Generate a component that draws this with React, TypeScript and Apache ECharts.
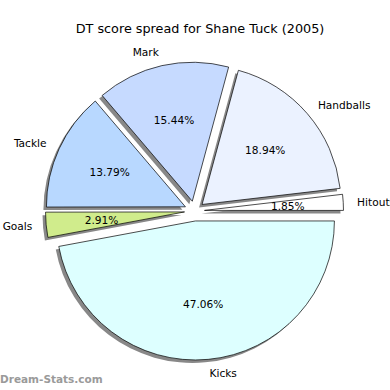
import React, { useEffect, useRef } from "react";
import * as echarts from "echarts";

const TITLE = "DT score spread for Shane Tuck (2005)";
const CATEGORIES = ["Kicks", "Goals", "Tackle", "Mark", "Handballs", "Hitouts"];
const PERCENTS = [47.06, 2.91, 13.79, 15.44, 18.94, 1.85];
const COLORS = ["#DDFFFF", "#D0EC8C", "#B8D8FF", "#C6DAFF", "#EBF2FF", "#FFFFFF"];
const WATERMARK = "Dream-Stats.com";

const CX = 194.5;
const CY = 211;
const R = 139;
const OFFSET = 10;
const FONT = "DejaVu Sans";

export default function App() {
  const ref = useRef<HTMLDivElement>(null);
  useEffect(() => {
    if (!ref.current) return;
    const chart = echarts.init(ref.current, undefined, { renderer: "svg" });
    const makeData = (colorFn: (i: number) => string) =>
      CATEGORIES.map((name, i) => ({
        name,
        value: PERCENTS[i],
        selected: true,
        itemStyle: { color: colorFn(i) },
      }));
    const common = {
      type: "pie" as const,
      startAngle: 0,
      clockwise: true,
      selectedMode: "multiple" as const,
      selectedOffset: OFFSET,
      avoidLabelOverlap: false,
      silent: true,
      animation: false,
      emphasis: { disabled: true },
    };
    chart.setOption({
      animation: false,
      title: {
        text: TITLE,
        left: 195,
        textAlign: "center",
        top: 17,
        textStyle: { fontFamily: FONT, fontSize: 12.8, fontWeight: "normal", color: "#000" },
      },
      graphic: [
        {
          type: "text",
          left: 0,
          top: 373,
          style: {
            text: WATERMARK,
            fontFamily: FONT,
            fontSize: 10.5,
            fontWeight: "bold",
            fill: "#9a9a9a",
          },
        },
      ],
      series: [
        {
          ...common,
          name: "shadow",
          center: [CX - 3, CY + 3],
          radius: R,
          z: 1,
          data: makeData(() => "#888888"),
          itemStyle: { borderWidth: 0 },
          select: { itemStyle: { color: "#888888", borderWidth: 0 } },
          label: { show: false },
          labelLine: { show: false },
        },
        {
          ...common,
          name: "main",
          center: [CX, CY],
          radius: R,
          z: 2,
          data: makeData((i) => COLORS[i]),
          itemStyle: { borderColor: "#000", borderWidth: 0.7 },
          select: { itemStyle: { borderColor: "#000", borderWidth: 0.7 } },
          label: {
            show: true,
            position: "outside",
            formatter: "{b}",
            fontFamily: FONT,
            fontSize: 10.6,
            color: "#000",
            distanceToLabelLine: 0,
          },
          labelLine: { show: false, length: R * 0.1, length2: 0 },
        },
        {
          ...common,
          name: "pct",
          center: [CX, CY],
          radius: [2 * (0.6 * R - 3) - R, R],
          z: 3,
          data: makeData(() => "rgba(0,0,0,0)"),
          itemStyle: { borderWidth: 0 },
          select: { itemStyle: { color: "rgba(0,0,0,0)", borderWidth: 0 } },
          label: {
            show: true,
            position: "inside",
            formatter: (p: any) => Number(p.value).toFixed(2) + "%",
            fontFamily: FONT,
            fontSize: 10.6,
            color: "#000",
          },
          labelLine: { show: false },
        },
      ],
    });
    return () => chart.dispose();
  }, []);
  return (
    <div
      style={{
        position: "fixed",
        left: 0,
        top: 0,
        width: 390,
        height: 390,
        overflow: "hidden",
        background: "#fff",
      }}
    >
      <div ref={ref} style={{ width: 480, height: 390 }} />
    </div>
  );
}
